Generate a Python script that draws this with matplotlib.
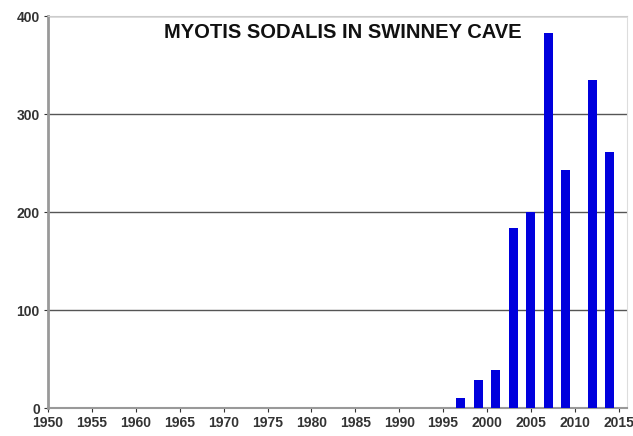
import matplotlib
matplotlib.use("Agg")
import matplotlib.pyplot as plt

# Myotis sodalis counts in Swinney Cave
YEARS = [1997, 1999, 2001, 2003, 2005, 2007, 2009, 2012, 2014]
COUNTS = [10, 29, 39, 184, 200, 383, 243, 335, 261]
X_TICKS = list(range(1950, 2016, 5))
Y_TICKS = [0, 100, 200, 300, 400]
TITLE = "MYOTIS SODALIS IN SWINNEY CAVE"

plt.rcParams["font.family"] = ["Liberation Sans", "DejaVu Sans"]

fig = plt.figure(figsize=(6.33, 4.36), dpi=100)
ax = fig.add_axes([0.076, 0.064, 0.915, 0.899])

ax.bar(YEARS, COUNTS, width=1.0, color="#0000dd", zorder=3)

ax.set_xlim(1950, 2016)
ax.set_ylim(0, 400)
ax.set_xticks(X_TICKS)
ax.set_yticks(Y_TICKS)
ax.tick_params(axis="both", labelsize=10, colors="#333333", length=3, pad=3)
for lbl in ax.get_xticklabels() + ax.get_yticklabels():
    lbl.set_fontweight("bold")

ax.yaxis.grid(True, color="#555555", linewidth=1.0, zorder=0)
ax.spines["left"].set_color("#999999")
ax.spines["left"].set_linewidth(2)
ax.spines["bottom"].set_color("#999999")
ax.spines["bottom"].set_linewidth(1.5)
ax.spines["top"].set_color("#cccccc")
ax.spines["right"].set_color("#dddddd")

ax.text(0.508, 0.957, TITLE, transform=ax.transAxes, ha="center", va="center",
        fontsize=14.5, fontweight="bold", color="#111111")

fig.savefig("out.png", dpi=100)
